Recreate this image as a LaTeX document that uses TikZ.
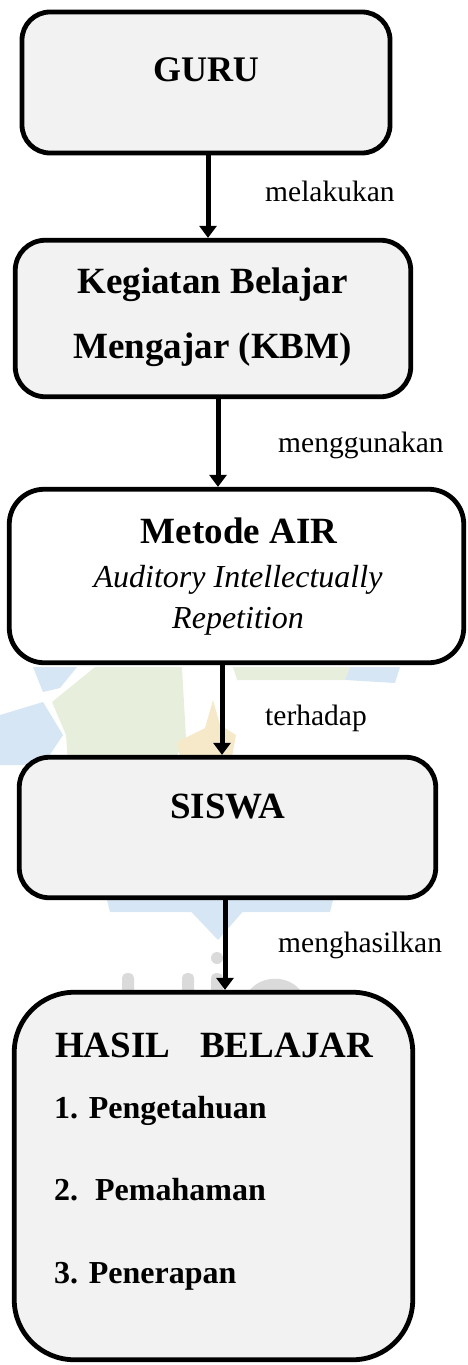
\documentclass[tikz,border=0pt]{standalone}
\usepackage{fontspec}
\setmainfont{Liberation Serif}
\usetikzlibrary{arrows.meta}
\definecolor{boxgray}{HTML}{F2F2F2}
\definecolor{wblue}{HTML}{D6E6F4}
\definecolor{wgreen}{HTML}{E7EFDC}
\definecolor{wgold}{HTML}{F6E9CA}
\definecolor{wgray}{HTML}{DADADA}
\tikzset{
  box/.style={draw=black, line width=4.8pt, inner sep=0pt},
  arr/.style={line width=5pt, -{Triangle[length=12pt,width=17pt]}},
  txt/.style={inner sep=0pt, anchor=base},
  ttl/.style={txt, font=\fontsize{37}{40}\selectfont\bfseries},
  itl/.style={txt, font=\fontsize{32}{36}\selectfont\itshape},
  itm/.style={inner sep=0pt, anchor=base west, font=\fontsize{32}{36}\selectfont\bfseries},
  lbl/.style={inner sep=0pt, anchor=base west, font=\fontsize{29.5}{32}\selectfont}
}
\begin{document}
\begin{tikzpicture}[x=1pt,y=-1pt]
\useasboundingbox (0,0) rectangle (467,1365);
% faint watermark
\fill[wblue] (33,667) -- (77,667) -- (60,688) -- (43,692) -- cycle;
\fill[wblue] (0,715) -- (43,702) -- (63,735) -- (43,765) -- (0,765) -- cycle;
\fill[wgreen] (52,702) -- (95,667) -- (182,667) -- (186,738) -- (172,765) -- (68,765) -- (66,735) -- cycle;
\fill[wgreen] (233,667) -- (350,667) -- (345,680) -- (237,680) -- cycle;
\fill[wblue] (350,667) -- (400,667) -- (395,683) -- (345,680) -- cycle;
\fill[wgold] (177,742) -- (205,728) -- (213,700) -- (220,725) -- (236,735) -- (232,757) -- (180,757) -- cycle;
\fill[wblue] (107,900) -- (333,900) -- (330,912) -- (110,912) -- cycle;
\fill[wblue] (180,900) -- (253,900) -- (218,940) -- cycle;
\fill[wgray] (217,958) circle (6);
\fill[wgray, rounded corners=5pt] (122,973) rectangle (134,995);
\fill[wgray, rounded corners=5pt] (182,973) rectangle (194,995);
\fill[wgray, rounded corners=5pt] (211,973) rectangle (223,995);
\fill[wgray] (250,990) .. controls (262,975) and (288,975) .. (300,990) -- cycle;
% boxes
\node[box, fill=boxgray, minimum width=368pt, minimum height=141pt, rounded corners=28pt] (guru) at (206,82.5) {};
\node[box, fill=boxgray, minimum width=395.5pt, minimum height=156.5pt, rounded corners=30pt] (kbm) at (213,318.5) {};
\node[box, fill=white, minimum width=454.5pt, minimum height=173.5pt, rounded corners=35pt] (air) at (236.5,576) {};
\node[box, fill=boxgray, minimum width=416.5pt, minimum height=140.5pt, rounded corners=30pt] (siswa) at (227.5,827.5) {};
\node[box, fill=boxgray, minimum width=398.5pt, minimum height=367.5pt, rounded corners=60pt] (hasil) at (213.5,1176) {};
% texts
\node[txt, font=\fontsize{36}{40}\selectfont\bfseries] (tguru) at (206,81) {GURU};
\node[ttl] (tkbm1) at (212.5,293) {Kegiatan Belajar};
\node[ttl] (tkbm2) at (212.5,358) {Mengajar (KBM)};
\node[ttl] (tair) at (239,543) {Metode AIR};
\node[itl] (tair2) at (238,587) {Auditory Intellectually};
\node[itl] (tair3) at (238,628) {Repetition};
\node[ttl] (tsiswa) at (228,818) {SISWA};
\node[ttl, anchor=base west] (thasil) at (55,1057) {HASIL\hspace{30pt}BELAJAR};
\node[itm] (i1) at (54,1118) {1. Pengetahuan};
\node[itm] (i2) at (54,1200) {2.\hspace{17pt}Pemahaman};
\node[itm] (i3) at (54,1283) {3. Penerapan};
% labels
\node[lbl] (l1) at (265,201) {melakukan};
\node[lbl] (l2) at (278,452) {menggunakan};
\node[lbl] (l3) at (265,725) {terhadap};
\node[lbl] (l4) at (278,952) {menghasilkan};
% arrows
\coordinate (a1) at (208,0);
\coordinate (a2) at (218,0);
\coordinate (a3) at (222,0);
\coordinate (a4) at (225,0);
\draw[arr] ([yshift=4pt]guru.south -| a1) -- (kbm.north -| a1);
\draw[arr] ([yshift=4pt]kbm.south -| a2) -- (air.north -| a2);
\draw[arr] ([yshift=4pt]air.south -| a3) -- (siswa.north -| a3);
\draw[arr] ([yshift=4pt]siswa.south -| a4) -- (hasil.north -| a4);
\end{tikzpicture}
\end{document}
